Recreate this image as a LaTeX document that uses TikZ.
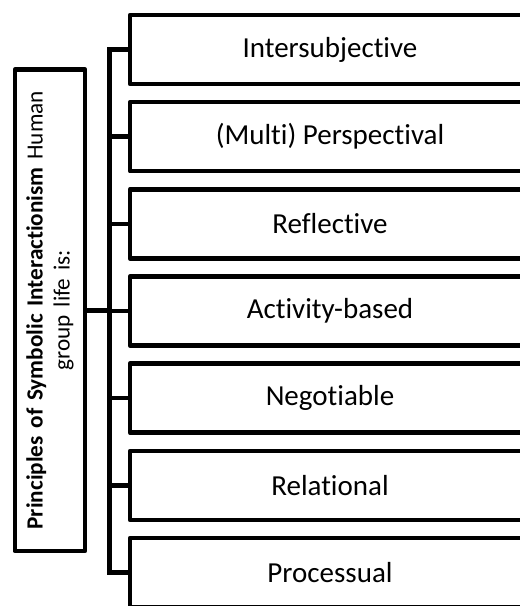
\documentclass[tikz,border=0pt]{standalone}
\usepackage{fontspec}
\setmainfont{Carlito}[Ligatures={NoCommon}]
\begin{document}
\begin{tikzpicture}[x=1pt,y=-1pt,
  line width=4.5pt,
  item/.style={draw, rectangle, line join=round, minimum width=400pt, minimum height=69pt,
    inner sep=0pt, font=\fontsize{29}{34}\selectfont},
  headbox/.style={draw, rectangle, line join=round, rotate=90, minimum width=481.5pt,
    minimum height=70.25pt, inner sep=0pt, align=center, text width=470pt,
    font=\fontsize{23.2}{27}\selectfont},
  link/.style={line join=miter}]
\useasboundingbox (0,0) rectangle (520,606);
\clip (0,0) rectangle (520,606);

% heading box, text running upwards
\node[headbox] (head) at (49.9,310.25)
  {\textbf{Principles of Symbolic Interactionism} Human\\group life is:};

% the seven principles
\node[item] (p1) at (330,49.5)  {Intersubjective};
\node[item] (p2) at (330,136.7) {(Multi) Perspectival};
\node[item] (p3) at (330,223.8) {Reflective};
\node[item] (p4) at (330,311.0) {Activity-based};
\node[item] (p5) at (330,398.2) {Negotiable};
\node[item] (p6) at (330,485.4) {Relational};
\node[item] (p7) at (330,572.5) {Processual};

% bracket joining heading to principles
\coordinate (trunk) at (109.5,310);
\draw[link] (p1.west) -- (p1.west -| trunk) -- (p7.west -| trunk) -- (p7.west);
\foreach \n in {p2,p3,p4,p5,p6}
  \draw[link] (\n.west) -- (\n.west -| trunk);
\draw[link] (head) -- (head -| trunk);
\end{tikzpicture}
\end{document}
